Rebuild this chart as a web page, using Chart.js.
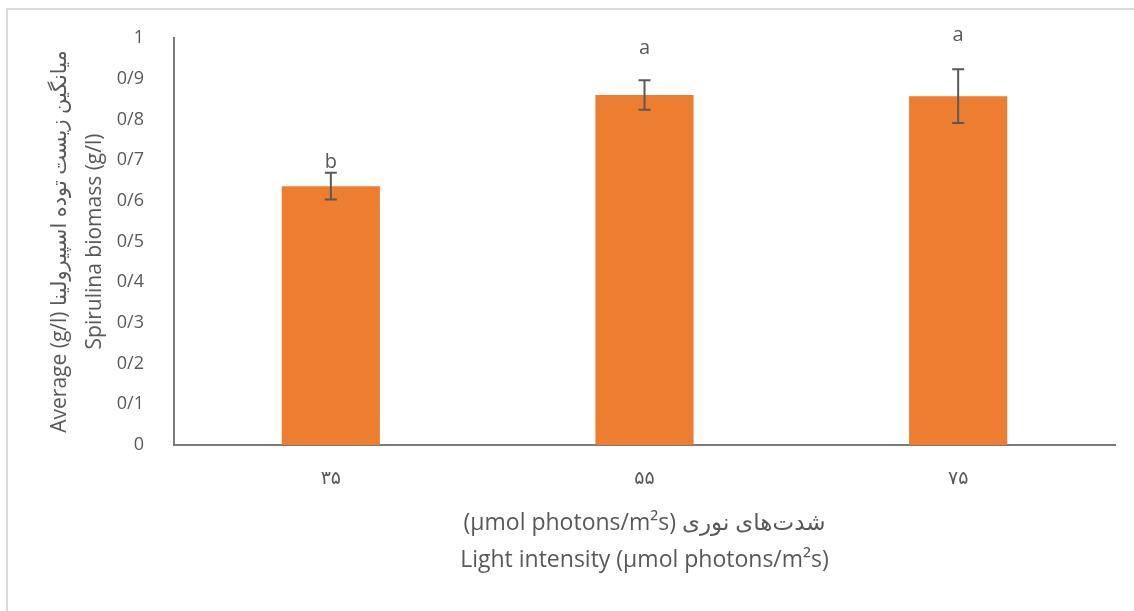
<!DOCTYPE html>
<html>
<head>
<meta charset="utf-8">
<title>Spirulina biomass</title>
<script src="https://cdn.jsdelivr.net/npm/chart.js@4/dist/chart.umd.min.js"></script>
<style>
  html, body { margin: 0; padding: 0; background: #ffffff; }
  #frame {
    position: absolute; left: 6px; top: 8px; width: 1200px; height: 700px;
    border-left: 2px solid #d9d9d9; border-top: 2px solid #d9d9d9;
  }
  #chart { position: absolute; left: 0; top: 0; }
</style>
</head>
<body>
<div id="frame"></div>
<canvas id="chart" width="1134" height="611"></canvas>
<script>
// Light intensity groups (Persian digits)
const lightIntensity = ['۳۵', '۵۵', '۷۵'];
// Mean biomass (g/l) and standard error per group
const biomassMean = [0.636, 0.860, 0.857];
const biomassError = [0.033, 0.036, 0.066];
// Significance letters above each bar
const groupLetters = ['b', 'a', 'a'];
// Y-axis labels, Persian style decimal separator
const yTickLabels = ['0', '0/1', '0/2', '0/3', '0/4', '0/5', '0/6', '0/7', '0/8', '0/9', '1'];

const textColor = '#595959';
const axisColor = '#7a7a7a';
const fontFamily = "'Open Sans', 'DejaVu Sans', sans-serif";

// Draws error bars with caps and the significance letter above each bar
const errorBars = {
  id: 'errorBars',
  afterDatasetsDraw(chart, args, opts) {
    const ctx = chart.ctx;
    const meta = chart.getDatasetMeta(0);
    const yScale = chart.scales.y;
    ctx.save();
    meta.data.forEach((bar, i) => {
      const x = bar.x;
      const yTop = yScale.getPixelForValue(biomassMean[i] + biomassError[i]);
      const yBot = yScale.getPixelForValue(biomassMean[i] - biomassError[i]);
      ctx.strokeStyle = opts.color;
      ctx.lineWidth = opts.width;
      ctx.beginPath();
      ctx.moveTo(x, yTop); ctx.lineTo(x, yBot);
      ctx.moveTo(x - opts.cap, yTop); ctx.lineTo(x + opts.cap, yTop);
      ctx.moveTo(x - opts.cap, yBot); ctx.lineTo(x + opts.cap, yBot);
      ctx.stroke();
      ctx.fillStyle = textColor;
      ctx.font = opts.font;
      ctx.textAlign = 'center';
      ctx.textBaseline = 'alphabetic';
      ctx.fillText(groupLetters[i], x, yTop - opts.letterGap[i]);
    });
    ctx.restore();
  }
};

new Chart(document.getElementById('chart'), {
  type: 'bar',
  data: {
    labels: lightIntensity,
    datasets: [{
      data: biomassMean,
      backgroundColor: '#ED7D31',
      borderWidth: 0,
      categoryPercentage: 1,
      barPercentage: 0.313
    }]
  },
  options: {
    responsive: false,
    devicePixelRatio: 1,
    animation: false,
    layout: { padding: { top: 38, right: 19, left: 0, bottom: 0 } },
    plugins: {
      legend: { display: false },
      tooltip: { enabled: false },
      errorBars: {
        color: '#595959', width: 2, cap: 6,
        font: "20px " + fontFamily,
        letterGap: [5, 26, 28]
      }
    },
    scales: {
      x: {
        grid: { display: false, drawTicks: false },
        border: { display: true, color: axisColor, width: 2 },
        ticks: { color: textColor, padding: 22, font: { family: fontFamily, size: 19 } },
        title: {
          display: true,
          text: ['\u202Bشدت‌های نوری (µmol photons/m²s)\u202C', 'Light intensity (µmol photons/m²s)'],
          color: textColor,
          font: { family: fontFamily, size: 23, lineHeight: 1.61 },
          padding: { top: 0, bottom: 32.5 }
        },
        afterFit(scale) { scale.height = 166; }
      },
      y: {
        min: 0, max: 1,
        grid: { display: false, drawTicks: false },
        border: { display: true, color: axisColor, width: 2 },
        ticks: {
          stepSize: 0.1,
          color: textColor,
          padding: 30,
          font: { family: fontFamily, size: 18 },
          callback: (value, index) => yTickLabels[index]
        },
        title: {
          display: true,
          text: ['Average (g/l) میانگین زیست توده اسپیرولینا', 'Spirulina biomass (g/l)'],
          color: textColor,
          font: { family: fontFamily, size: 21, lineHeight: 1.67 },
          padding: { top: 42.5, bottom: 0 }
        },
        afterFit(scale) {
          scale.width = 174;
          scale.paddingTop = 0;
          scale.paddingBottom = 0;
        }
      }
    }
  },
  plugins: [errorBars]
});
</script>
</body>
</html>
